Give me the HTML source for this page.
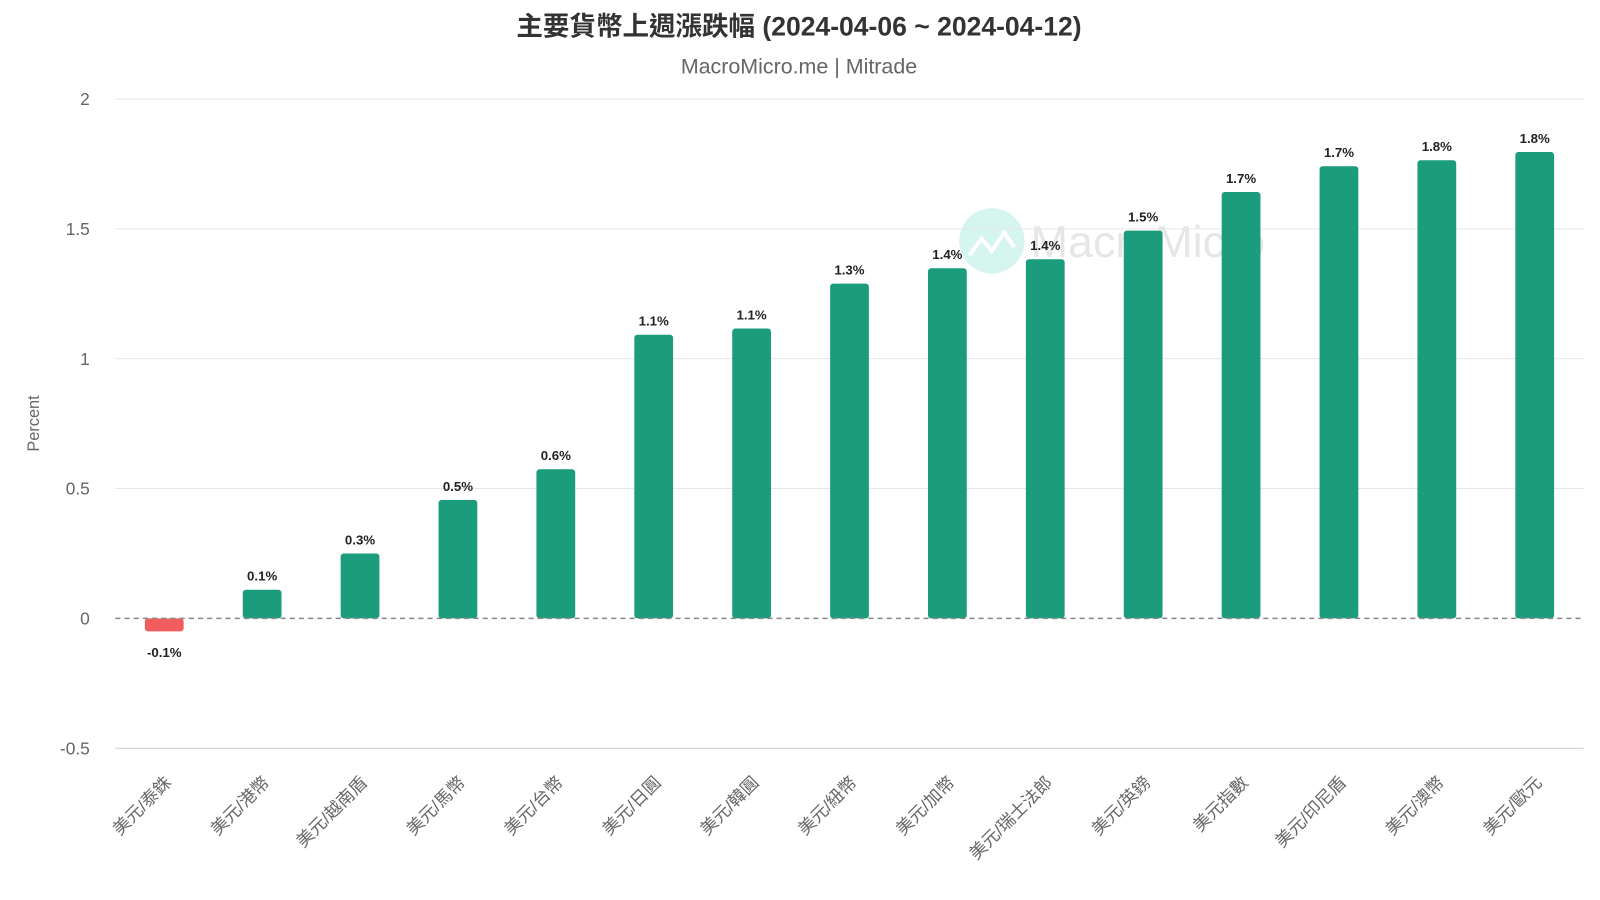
<!DOCTYPE html>
<html><head><meta charset="utf-8">
<style>
html,body{margin:0;padding:0;background:#fff;}
svg{display:block;font-family:"Liberation Sans","Noto Sans CJK TC",sans-serif;}
</style></head>
<body>
<svg id="chart" width="1600" height="900" viewBox="0 0 1568 882">
<text x="783" y="35" text-anchor="middle" font-size="26" font-weight="bold" fill="#333">主要貨幣上週漲跌幅 (2024-04-06 ~ 2024-04-12)</text>
<text x="783" y="72" text-anchor="middle" font-size="21" fill="#666">MacroMicro.me | Mitrade</text>
<g>
<circle cx="972" cy="236" r="32" fill="#d6f5ee"/>
<polyline points="950,250 962,234 972,246 984,228 994,242" fill="none" stroke="#fff" stroke-width="4"/>
<text x="1010" y="252" font-size="44" fill="#e6e6e6">MacroMicro</text>
</g>
<text transform="translate(38,415) rotate(-90)" text-anchor="middle" font-size="16" fill="#666">Percent</text>
<g id="grid"></g>
<g id="bars"></g>
<g id="xlabels"></g>
</svg>
<script>
const categories=["美元/泰銖","美元/港幣","美元/越南盾","美元/馬幣","美元/台幣","美元/日圓","美元/韓圓","美元/紐幣","美元/加幣","美元/瑞士法郎","美元/英鎊","美元指數","美元/印尼盾","美元/澳幣","美元/歐元"];
const values=[-0.05,0.11,0.25,0.456,0.574,1.092,1.116,1.289,1.348,1.383,1.493,1.642,1.741,1.764,1.796];
const valueLabels=["-0.1%","0.1%","0.3%","0.5%","0.6%","1.1%","1.1%","1.3%","1.4%","1.4%","1.5%","1.7%","1.7%","1.8%","1.8%"];
const yTicks=[2,1.5,1,0.5,0,-0.5];
const yTickLabels=["2","1.5","1","0.5","0","-0.5"];

const NS="http://www.w3.org/2000/svg";
const left=113,right=1552,y0px=606,y2px=97;
const y=v=>y0px+(y2px-y0px)*v/2;
const step=(right-left)/categories.length;
const x=i=>left+step*(i+0.5);
function mk(tag,attrs,parent){const e=document.createElementNS(NS,tag);for(const k in attrs)e.setAttribute(k,attrs[k]);parent.appendChild(e);return e;}
const grid=document.getElementById('grid'),bars=document.getElementById('bars'),xl=document.getElementById('xlabels');
yTicks.forEach((t,i)=>{
  if(t!==0){const l=mk('line',{x1:left,x2:right,y1:y(t),y2:y(t),stroke:t===-0.5?'#ccc':'#e6e6e6','stroke-width':1},grid);
  
  }
  const tx=mk('text',{x:88,y:y(t)+6,'text-anchor':'end','font-size':17,fill:'#666'},grid);
  tx.textContent=yTickLabels[i];
  
  
});
values.forEach((v,i)=>{
  const bw=38,top=Math.min(y(v),y0px),h=Math.abs(y(v)-y0px);
  const r=mk('rect',{x:x(i)-bw/2,y:top,width:bw,height:h,rx:3,fill:v<0?'#f15c5c':'#1a9c7d'},bars);
  
  
  const t=mk('text',{x:x(i),y:v<0?y(v)+25:y(v)-9,'text-anchor':'middle','font-size':13,'font-weight':'bold',fill:'#222'},bars);
  t.textContent=valueLabels[i];
  
  
  const c=mk('text',{'text-anchor':'end','font-size':17,fill:'#666',transform:`translate(${x(i)+8},768) rotate(-45)`},xl);
  c.textContent=categories[i];
  
  
});
const zl=mk('line',{x1:left,x2:right,y1:y0px,y2:y0px,stroke:'#888','stroke-width':1.5,'stroke-dasharray':'5,4'},bars);


</script>
</body></html>
